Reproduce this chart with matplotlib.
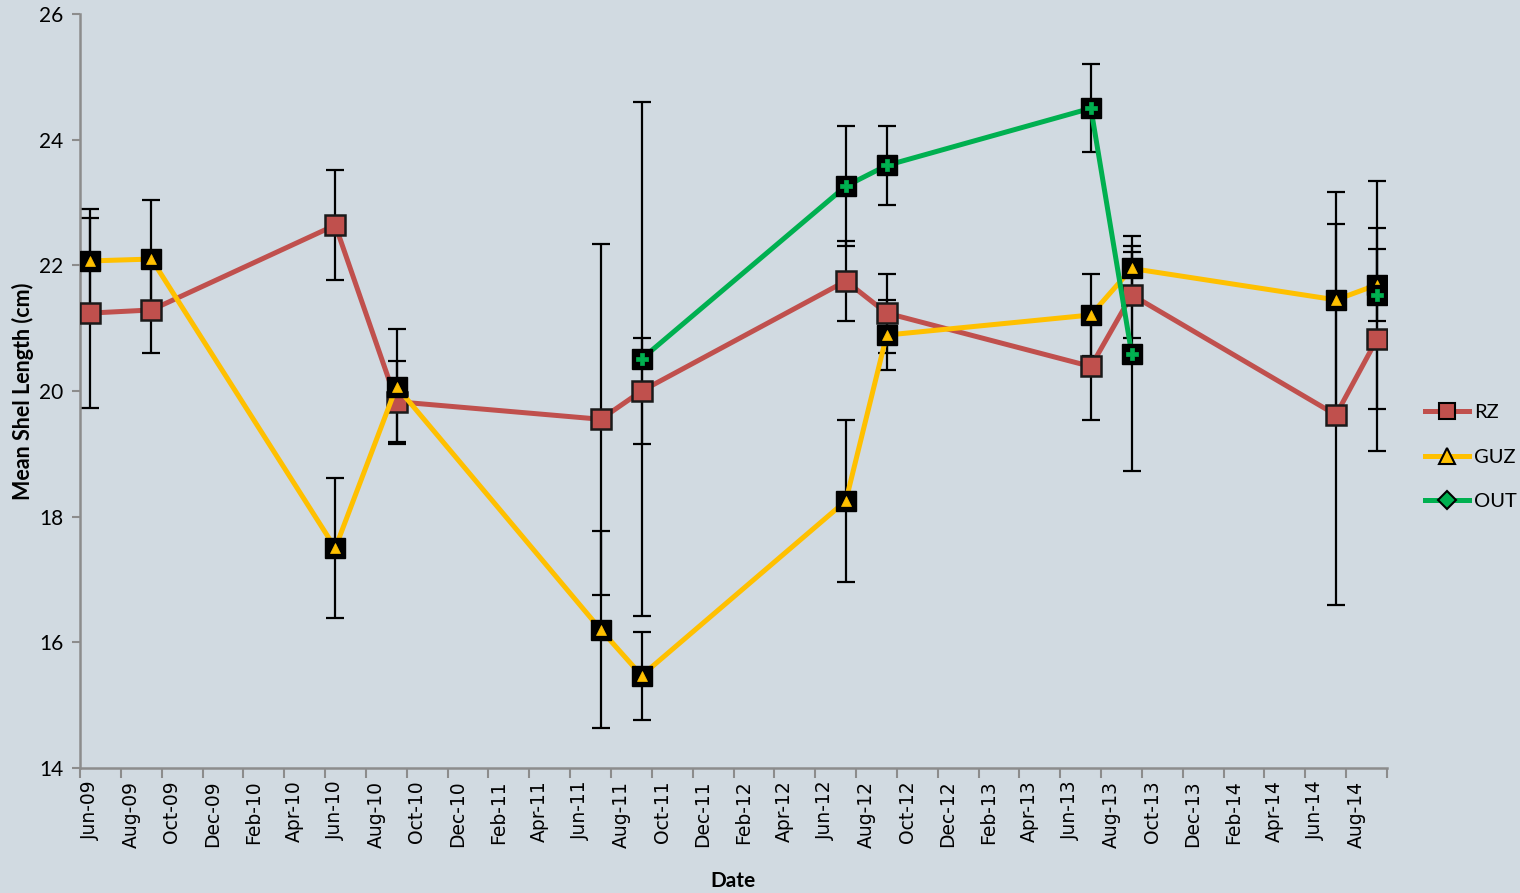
import matplotlib
matplotlib.use("Agg")
import matplotlib.pyplot as plt
from matplotlib.lines import Line2D
import numpy as np

# ---- data ----
tick_labels = ["Jun-09", "Aug-09", "Oct-09", "Dec-09", "Feb-10", "Apr-10", "Jun-10", "Aug-10",
               "Oct-10", "Dec-10", "Feb-11", "Apr-11", "Jun-11", "Aug-11", "Oct-11", "Dec-11",
               "Feb-12", "Apr-12", "Jun-12", "Aug-12", "Oct-12", "Dec-12", "Feb-13", "Apr-13",
               "Jun-13", "Aug-13", "Oct-13", "Dec-13", "Feb-14", "Apr-14", "Jun-14", "Aug-14"]

rz_dates = ["2009-06", "2009-09", "2010-06", "2010-09", "2011-07", "2011-09",
            "2012-07", "2012-09", "2013-07", "2013-09", "2014-07", "2014-09"]
rz_mean = [21.24, 21.29, 22.64, 19.83, 19.55, 20.00, 21.75, 21.24, 20.39, 21.53, 19.62, 20.82]
rz_err = [1.51, 0.69, 0.88, 0.64, 2.79, 0.85, 0.64, 0.63, 0.85, 0.69, 3.03, 1.77]

guz_dates = ["2009-06", "2009-09", "2010-06", "2010-09", "2011-07", "2011-09",
             "2012-07", "2012-09", "2013-07", "2013-09", "2014-07", "2014-09"]
guz_mean = [22.07, 22.10, 17.50, 20.07, 16.20, 15.47, 18.25, 20.89, 21.21, 21.95, 21.45, 21.69]
guz_err = [0.83, 0.94, 1.12, 0.91, 1.57, 0.70, 1.29, 0.56, 0.66, 0.35, 1.71, 0.57]

# Jul-14 has no OUT sample (gap in the line)
out_dates = ["2011-09", "2012-07", "2012-09", "2013-07", "2013-09", "2014-07", "2014-09"]
out_mean = [20.51, 23.26, 23.59, 24.50, 20.59, np.nan, 21.53]
out_err = [4.09, 0.96, 0.63, 0.70, 1.87, np.nan, 1.82]


def month_index(s):
    y, m = s.split("-")[:2]
    return (int(y) - 2009) * 12 + (int(m) - 6)


rz_x = [month_index(d) for d in rz_dates]
guz_x = [month_index(d) for d in guz_dates]
out_x = [month_index(d) for d in out_dates]

RED = "#C0504D"
YEL = "#FFC000"
GRN = "#00B050"
BG = "#D1DAE1"
SPINE = "#8C8C8C"

fig = plt.figure(figsize=(15.2, 8.93), dpi=100, facecolor=BG)
ax = fig.add_axes([80 / 1520, 1 - 768 / 893, (1387 - 80) / 1520, (768 - 14) / 893])
ax.set_facecolor(BG)

ekw = dict(fmt="none", ecolor="black", elinewidth=1.6, capsize=6.5, capthick=1.6, zorder=2)
ax.errorbar(rz_x, rz_mean, yerr=rz_err, **ekw)
ax.errorbar(guz_x, guz_mean, yerr=guz_err, **ekw)
ax.errorbar(out_x, out_mean, yerr=out_err, **ekw)

lw = 3.6
# RZ
ax.plot(rz_x, rz_mean, color=RED, lw=lw, zorder=3)
ax.plot(rz_x, rz_mean, ls="none", marker="s", ms=14, mfc=RED, mec="#1a1a1a", mew=1.8, zorder=4)
# GUZ
ax.plot(guz_x, guz_mean, color=YEL, lw=lw, zorder=5)
ax.plot(guz_x, guz_mean, ls="none", marker="s", ms=15, mfc="black", mec="black", mew=1, zorder=6)
ax.plot(guz_x, guz_mean, ls="none", marker="^", ms=7.5, mfc=YEL, mec=YEL, mew=0.5, zorder=7)
# OUT
ax.plot(out_x, out_mean, color=GRN, lw=lw, zorder=8)
ax.plot(out_x, out_mean, ls="none", marker="s", ms=15, mfc="black", mec="black", mew=1, zorder=9)
ax.plot(out_x, out_mean, ls="none", marker="P", ms=8, mfc=GRN, mec=GRN, mew=0.5, zorder=10)

ax.set_xlim(-0.5, 63.5)
ax.set_ylim(14, 26)
ax.set_yticks([14, 16, 18, 20, 22, 24, 26])
ax.tick_params(axis="y", direction="out", length=6, width=1.5, color=SPINE, labelsize=15, pad=6)
for t in ax.get_yticklabels():
    t.set_fontfamily("Lato")

ax.set_xticks([-0.5 + 2 * k for k in range(33)])
ax.set_xticklabels([])
ax.tick_params(axis="x", which="major", direction="out", length=7, width=1.5, color=SPINE)
ax.set_xticks([2 * k for k in range(len(tick_labels))], minor=True)
ax.set_xticklabels(tick_labels, minor=True, rotation=90, fontsize=13.5, fontfamily="DejaVu Sans")
ax.tick_params(axis="x", which="minor", length=0, pad=9)

for s in ["top", "right"]:
    ax.spines[s].set_visible(False)
for s in ["left", "bottom"]:
    ax.spines[s].set_color(SPINE)
    ax.spines[s].set_linewidth(1.8)

ax.set_ylabel("Mean Shel Length (cm)", fontsize=15.5, fontweight="bold", fontfamily="Lato", labelpad=4)
fig.text(733 / 1520, 1 - 881 / 893, "Date", ha="center", va="center", fontsize=15,
         fontweight="bold", fontfamily="Lato")

handles = [
    Line2D([], [], color=RED, lw=lw, marker="s", ms=11, mfc=RED, mec="black", mew=1.5),
    Line2D([], [], color=YEL, lw=lw, marker="^", ms=11, mfc=YEL, mec="black", mew=1.5),
    Line2D([], [], color=GRN, lw=lw, marker="D", ms=9, mfc=GRN, mec="black", mew=1.5),
]
leg = fig.legend(handles, ["RZ", "GUZ", "OUT"], loc="center left",
                 bbox_to_anchor=(1419 / 1520, 1 - 457 / 893), frameon=False,
                 prop={"family": "Lato", "size": 14.5}, handlelength=2.2, handletextpad=0.25,
                 labelspacing=1.35, borderaxespad=0, borderpad=0.3)

fig.savefig("out.png", dpi=100, facecolor=BG)
